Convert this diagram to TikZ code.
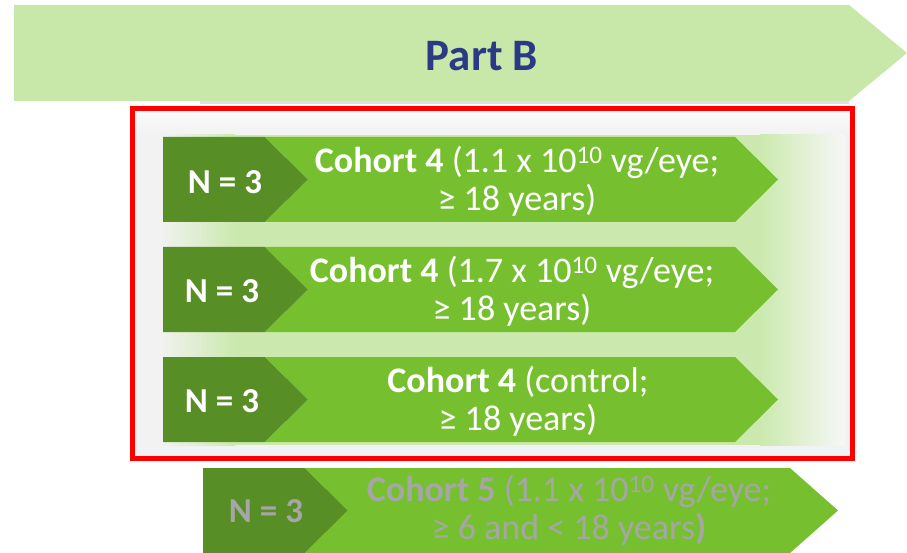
\documentclass[tikz,border=0pt]{standalone}
\usepackage{fontspec}
\setmainfont{Carlito}
\definecolor{bannerG}{HTML}{C8E8A9}
\definecolor{partblue}{HTML}{2B3A85}
\definecolor{darkG}{HTML}{588E26}
\definecolor{midG}{HTML}{76C030}
\definecolor{paleG}{HTML}{CBE9AE}
\definecolor{boxgray}{HTML}{F2F2F2}
\definecolor{grayT}{HTML}{A6A6A6}
\newcommand{\rowshape}[4]{%
  \fill[darkG] (#1,#2) -- ++(102,0) -- ++(43,42.5) -- ++(-43,42.5) -- ++(-102,0) -- cycle;
  \fill[midG] (#1+102,#2) -- (#3,#2) -- (#4,#2+42.5) -- (#3,#2+85) -- (#1+102,#2+85) -- (#1+145,#2+42.5) -- cycle;}
\begin{document}
\begin{tikzpicture}[x=1pt,y=-1pt,
  every node/.style={inner sep=0pt},
  ntxt/.style={text=white, font=\bfseries\fontsize{35}{38}\selectfont},
  rowtxt/.style={text=white, align=center, font=\fontsize{36}{38}\selectfont},
  graytxt/.style={text=grayT, align=center, font=\fontsize{36}{38}\selectfont}]
\useasboundingbox (0,0) rectangle (907,553);
\fill[white] (0,0) rectangle (907,553);
% banner
\fill[black!12] (200,98) rectangle (849,104);
\fill[bannerG] (14,5) -- (849,5) -- (907,53) -- (849,101) -- (14,101) -- cycle;
\node[font=\bfseries\fontsize{45}{48}\selectfont, text=partblue] (partb) at (482,56) {Part B};
% box background
\fill[boxgray] (130,106) rectangle (855,461);
\shade[top color=white!60!boxgray, bottom color=boxgray] (135,111) rectangle (850,135);
\fill[paleG] (235,135) rectangle (760,445);
\shade[left color=boxgray, right color=paleG] (160,135) rectangle (235,445);
\shade[left color=paleG, right color=boxgray!60!white] (760,135) rectangle (845,445);
% rows
\rowshape{163}{137}{735}{778}
\rowshape{163}{247}{735}{778}
\rowshape{163}{357}{735}{778}
\rowshape{203}{468}{790}{838}
% red frame
\draw[red, line width=5pt] (132.5,108.5) rectangle (852.5,458.5);
% texts
\node[ntxt] (n1) at (225,182) {N = 3};
\node[ntxt] (n2) at (222,291) {N = 3};
\node[ntxt] (n3) at (222,401) {N = 3};
\node[ntxt, text=grayT] (n4) at (266,511) {N = 3};
\node[rowtxt] (c1) at (517,181) {\textbf{Cohort 4} (1.1 x 10\textsuperscript{10} vg/eye;\\ ≥ 18 years)};
\node[rowtxt] (c2) at (512,291) {\textbf{Cohort 4} (1.7 x 10\textsuperscript{10} vg/eye;\\ ≥ 18 years)};
\node[rowtxt] (c3) at (518,401) {\textbf{Cohort 4} (control;\\ ≥ 18 years)};
\node[graytxt] (c4) at (569,510) {\textbf{Cohort 5} (1.1 x 10\textsuperscript{10} vg/eye;\\ ≥ 6 and < 18 years\textbf{)}};
\end{tikzpicture}
\end{document}
